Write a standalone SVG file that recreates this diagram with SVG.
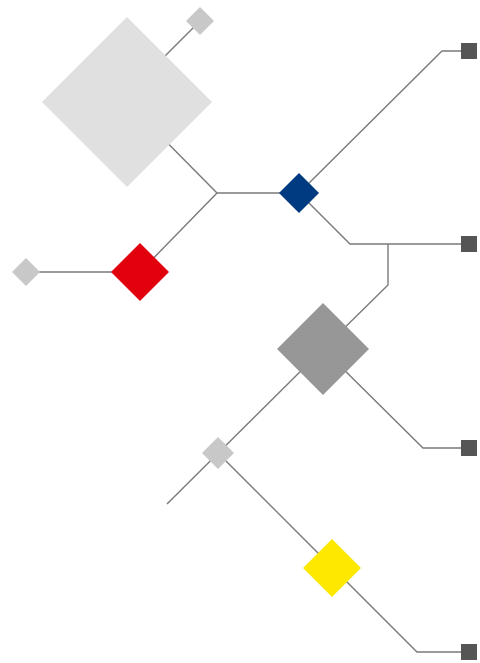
<svg xmlns="http://www.w3.org/2000/svg" width="480" height="663" viewBox="0 0 480 663">
<style>
.ln{fill:none;stroke:#7a7a7a;stroke-width:1.4;stroke-linejoin:miter}
.sq{fill:#555555}
.lg{fill:#c8c8c8}
</style>
<rect width="480" height="663" fill="#ffffff"/>
<g id="connectors">
<polyline class="ln" points="200,21 150,71"/>
<polyline class="ln" points="127,102 217,193 299,193"/>
<polyline class="ln" points="217,193 140,272"/>
<polyline class="ln" points="26,272 140,272"/>
<polyline class="ln" points="299,193 442,51 469,51"/>
<polyline class="ln" points="299,193 350,244 469,244"/>
<polyline class="ln" points="388,244 388,285 323,349"/>
<polyline class="ln" points="323,349 423,448 469,448"/>
<polyline class="ln" points="323,349 167,504"/>
<polyline class="ln" points="218,453 417,652 469,652"/>
</g>
<g id="node-big-light"><polygon points="127,17 212,102 127,187 42,102" fill="#e0e0e0"/></g>
<g id="node-top-small"><polygon class="lg" points="200,7 214,21 200,35 186,21"/></g>
<g id="node-left-small"><polygon class="lg" points="26,258 40,272 26,286 12,272"/></g>
<g id="node-red"><polygon points="140,243 169,272 140,301 111,272" fill="#e2000f"/></g>
<g id="node-blue"><polygon points="299,173 319,193 299,213 279,193" fill="#003a80"/></g>
<g id="node-gray"><polygon points="323,303 369,349 323,395 277,349" fill="#979797"/></g>
<g id="node-small-mid"><polygon class="lg" points="218,437 234,453 218,469 202,453"/></g>
<g id="node-yellow"><polygon points="332,539 361,568 332,597 303,568" fill="#ffe800"/></g>
<g id="node-sq1"><rect class="sq" x="461" y="43" width="16" height="16"/></g>
<g id="node-sq2"><rect class="sq" x="461" y="236" width="16" height="16"/></g>
<g id="node-sq3"><rect class="sq" x="461" y="440" width="16" height="16"/></g>
<g id="node-sq4"><rect class="sq" x="461" y="644" width="16" height="16"/></g>
</svg>
